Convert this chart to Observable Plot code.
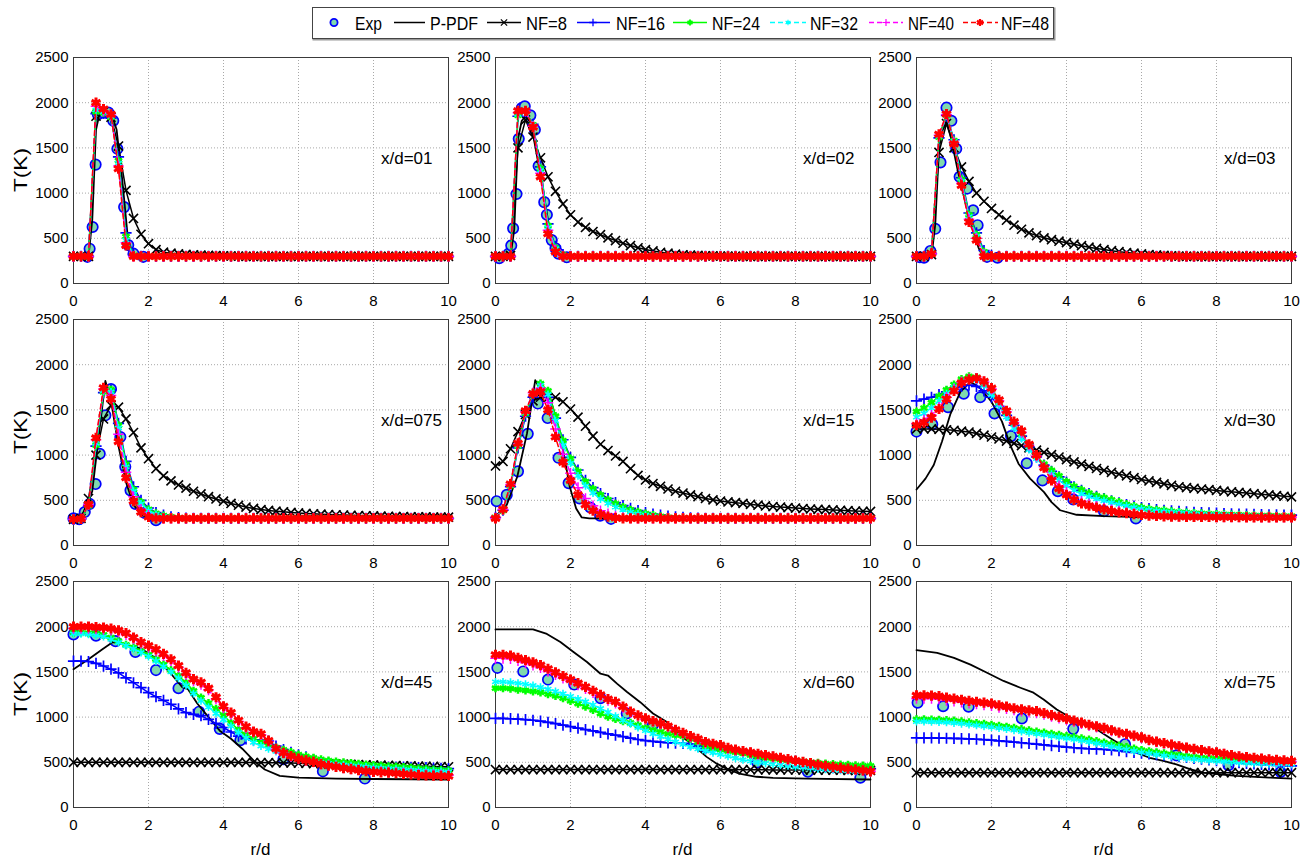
<!DOCTYPE html>
<html><head><meta charset="utf-8">
<script src="https://cdn.jsdelivr.net/npm/d3@7"></script>
<script src="https://cdn.jsdelivr.net/npm/@observablehq/plot@0.6"></script>
<style>
body{margin:0;background:#fff;font-family:"Liberation Sans",Arial,Helvetica,sans-serif;}
#wrap{position:relative;width:1311px;height:858px;overflow:hidden;background:#fff;}
.pnl{position:absolute;}
#overlay{position:absolute;left:0;top:0;}
</style></head>
<body><div id="wrap"><svg id="overlay" width="1311" height="858"></svg></div>
<script>
// ---------- DATA ----------
const r = [0,0.2,0.4,0.6,0.8,1,1.2,1.4,1.6,1.8,
2,2.2,2.4,2.6,2.8,3,3.2,3.4,3.6,3.8,
4,4.2,4.4,4.6,4.8,5,5.2,5.4,5.6,5.8,
6,6.2,6.4,6.6,6.8,7,7.2,7.4,7.6,7.8,
8,8.2,8.4,8.6,8.8,9,9.2,9.4,9.6,9.8,
10];
const xTicks = [0,2,4,6,8,10];
const yTicks = [0,500,1000,1500,2000,2500];
const panelLabels = ["x/d=01","x/d=02","x/d=03","x/d=075","x/d=15","x/d=30","x/d=45","x/d=60","x/d=75"];
const seriesNames = ["Exp","P-PDF","NF=8","NF=16","NF=24","NF=32","NF=40","NF=48"];

// x/d=01
const p01_nf8 = [300,300,300,1850,1900,1840,1520,1030,720,545,
440,375,346,335,328,322,318,314,311,308,
306,304,302,301,300,300,300,300,300,300,
300,300,300,300,300,300,300,300,300,300,
300,300,300,300,300,300,300,300,300,300,
300];
const p01_nf16 = [300,300,300,1880,1885,1830,1400,560,320,300,
300,300,300,300,300,300,300,300,300,300,
300,300,300,300,300,300,300,300,300,300,
300,300,300,300,300,300,300,300,300,300,
300,300,300,300,300,300,300,300,300,300,
300];
const p01_nf24 = [300,300,300,1900,1890,1840,1360,520,310,300,
300,300,300,300,300,300,300,300,300,300,
300,300,300,300,300,300,300,300,300,300,
300,300,300,300,300,300,300,300,300,300,
300,300,300,300,300,300,300,300,300,300,
300];
const p01_nf32 = [300,300,300,1920,1900,1850,1330,480,305,300,
300,300,300,300,300,300,300,300,300,300,
300,300,300,300,300,300,300,300,300,300,
300,300,300,300,300,300,300,300,300,300,
300,300,300,300,300,300,300,300,300,300,
300];
const p01_nf40 = [300,300,300,1960,1910,1860,1300,450,300,300,
300,300,300,300,300,300,300,300,300,300,
300,300,300,300,300,300,300,300,300,300,
300,300,300,300,300,300,300,300,300,300,
300,300,300,300,300,300,300,300,300,300,
300];
const p01_nf48 = [300,300,300,2000,1930,1870,1270,420,300,300,
300,300,300,300,300,300,300,300,300,300,
300,300,300,300,300,300,300,300,300,300,
300,300,300,300,300,300,300,300,300,300,
300,300,300,300,300,300,300,300,300,300,
300];
const p01_pdf = [[0,300],[0.4,300],[0.5,700],[0.6,1700],[0.7,1890],[0.9,1880],[1.05,1830],[1.15,1700],[1.3,1150],[1.45,500],[1.55,330],[1.7,300],[10,300]];
const p01_exp = [[0.37,295],[0.43,385],[0.51,625],[0.59,1315],[0.65,1870],[0.8,1890],[0.93,1890],[1.06,1800],[1.17,1490],[1.35,845],[1.46,425],[1.6,330],[1.86,295]];

// x/d=02
const p02_nf8 = [300,300,310,1500,1810,1620,1390,1180,1020,880,
760,680,620,575,540,505,475,445,420,395,
375,360,345,335,325,318,313,310,307,305,
303,302,301,300,300,300,300,300,300,300,
300,300,300,300,300,300,300,300,300,300,
300];
const p02_nf16 = [300,300,300,1850,1900,1760,1290,660,410,320,
300,300,300,300,300,300,300,300,300,300,
300,300,300,300,300,300,300,300,300,300,
300,300,300,300,300,300,300,300,300,300,
300,300,300,300,300,300,300,300,300,300,
300];
const p02_nf24 = [300,300,300,1860,1905,1755,1270,640,395,315,
300,300,300,300,300,300,300,300,300,300,
300,300,300,300,300,300,300,300,300,300,
300,300,300,300,300,300,300,300,300,300,
300,300,300,300,300,300,300,300,300,300,
300];
const p02_nf32 = [300,300,300,1870,1905,1750,1250,620,385,310,
300,300,300,300,300,300,300,300,300,300,
300,300,300,300,300,300,300,300,300,300,
300,300,300,300,300,300,300,300,300,300,
300,300,300,300,300,300,300,300,300,300,
300];
const p02_nf40 = [300,300,300,1890,1905,1740,1220,590,370,305,
300,300,300,300,300,300,300,300,300,300,
300,300,300,300,300,300,300,300,300,300,
300,300,300,300,300,300,300,300,300,300,
300,300,300,300,300,300,300,300,300,300,
300];
const p02_nf48 = [300,300,300,1910,1910,1730,1180,550,350,300,
300,300,300,300,300,300,300,300,300,300,
300,300,300,300,300,300,300,300,300,300,
300,300,300,300,300,300,300,300,300,300,
300,300,300,300,300,300,300,300,300,300,
300];
const p02_pdf = [[0,300],[0.4,300],[0.5,600],[0.6,1600],[0.7,1800],[0.8,1850],[0.9,1800],[1.0,1650],[1.2,1200],[1.4,700],[1.55,420],[1.7,310],[1.8,300],[10,300]];
const p02_exp = [[0.1,280],[0.35,330],[0.42,420],[0.47,610],[0.56,990],[0.62,1600],[0.7,1940],[0.78,1960],[0.93,1860],[1.05,1700],[1.15,1300],[1.3,900],[1.37,760],[1.5,480],[1.6,390],[1.68,330],[1.9,290]];

// x/d=03
const p03_nf8 = [300,300,320,1450,1770,1500,1290,1130,1000,910,
830,760,700,645,600,560,530,505,485,468,
452,435,418,402,388,375,363,352,343,335,
327,320,315,310,306,303,301,300,300,300,
300,300,300,300,300,300,300,300,300,300,
300];
const p03_nf16 = [300,300,330,1610,1860,1590,1170,780,560,365,
310,300,300,300,300,300,300,300,300,300,
300,300,300,300,300,300,300,300,300,300,
300,300,300,300,300,300,300,300,300,300,
300,300,300,300,300,300,300,300,300,300,
300];
const p03_nf24 = [300,300,330,1620,1862,1580,1150,760,540,350,
305,300,300,300,300,300,300,300,300,300,
300,300,300,300,300,300,300,300,300,300,
300,300,300,300,300,300,300,300,300,300,
300,300,300,300,300,300,300,300,300,300,
300];
const p03_nf32 = [300,300,330,1630,1865,1570,1130,740,520,335,
300,300,300,300,300,300,300,300,300,300,
300,300,300,300,300,300,300,300,300,300,
300,300,300,300,300,300,300,300,300,300,
300,300,300,300,300,300,300,300,300,300,
300];
const p03_nf40 = [300,300,330,1640,1870,1560,1110,710,500,320,
300,300,300,300,300,300,300,300,300,300,
300,300,300,300,300,300,300,300,300,300,
300,300,300,300,300,300,300,300,300,300,
300,300,300,300,300,300,300,300,300,300,
300];
const p03_nf48 = [300,300,330,1650,1875,1545,1085,680,480,300,
300,300,300,300,300,300,300,300,300,300,
300,300,300,300,300,300,300,300,300,300,
300,300,300,300,300,300,300,300,300,300,
300,300,300,300,300,300,300,300,300,300,
300];
const p03_pdf = [[0,300],[0.4,300],[0.5,650],[0.6,1500],[0.7,1700],[0.8,1780],[0.9,1650],[1.1,1250],[1.3,900],[1.5,600],[1.65,400],[1.75,310],[1.9,300],[10,300]];
const p03_exp = [[0.09,290],[0.2,285],[0.37,360],[0.5,605],[0.64,1340],[0.8,1945],[0.93,1800],[1.06,1490],[1.15,1180],[1.35,1050],[1.51,810],[1.63,645],[1.88,295],[2.16,285]];

// x/d=075
const p04_nf8 = [290,300,520,1000,1400,1550,1530,1400,1250,1080,
960,850,770,715,670,635,600,570,540,515,
490,465,445,425,410,397,388,380,373,366,
360,355,351,347,343,340,337,334,331,329,
327,325,323,321,320,318,317,316,315,314,
313];
const p04_nf16 = [290,295,440,1100,1690,1720,1350,930,650,500,
415,365,335,318,308,302,300,300,300,300,
300,300,300,300,300,300,300,300,300,300,
300,300,300,300,300,300,300,300,300,300,
300,300,300,300,300,300,300,300,300,300,
300];
const p04_nf24 = [290,295,440,1110,1700,1720,1330,900,620,480,
400,355,330,315,305,300,300,300,300,300,
300,300,300,300,300,300,300,300,300,300,
300,300,300,300,300,300,300,300,300,300,
300,300,300,300,300,300,300,300,300,300,
300];
const p04_nf32 = [290,295,445,1130,1710,1700,1300,870,600,460,
385,345,322,310,303,300,300,300,300,300,
300,300,300,300,300,300,300,300,300,300,
300,300,300,300,300,300,300,300,300,300,
300,300,300,300,300,300,300,300,300,300,
300];
const p04_nf40 = [290,295,450,1170,1730,1660,1230,810,540,400,
335,305,300,300,300,300,300,300,300,300,
300,300,300,300,300,300,300,300,300,300,
300,300,300,300,300,300,300,300,300,300,
300,300,300,300,300,300,300,300,300,300,
300];
const p04_nf48 = [290,295,455,1190,1745,1620,1150,750,490,370,
315,300,300,300,300,300,300,300,300,300,
300,300,300,300,300,300,300,300,300,300,
300,300,300,300,300,300,300,300,300,300,
300,300,300,300,300,300,300,300,300,300,
300];
const p04_pdf = [[0,290],[0.3,370],[0.5,600],[0.7,1300],[0.85,1820],[1.0,1600],[1.2,1100],[1.4,700],[1.6,450],[1.8,340],[2.0,305],[2.2,300],[10,300]];
const p04_exp = [[0,300],[0.15,290],[0.3,370],[0.43,460],[0.59,680],[0.7,1015],[0.85,1440],[1.0,1730],[1.25,1200],[1.38,870],[1.52,610],[1.65,460],[1.9,360],[2.2,280]];

// x/d=15
const p05_nf8 = [880,930,1070,1260,1450,1600,1640,1635,1640,1590,
1510,1420,1320,1210,1120,1050,990,930,850,775,
725,685,655,625,600,580,560,540,520,505,
492,482,474,466,456,446,438,431,425,419,
414,409,404,400,397,393,389,385,381,379,
377];
const p05_nf16 = [310,390,650,1080,1430,1640,1710,1640,1410,1170,
975,835,720,640,575,520,475,440,410,385,
365,348,335,325,317,310,305,302,300,300,
300,300,300,300,300,300,300,300,300,300,
300,300,300,300,300,300,300,300,300,300,
300];
const p05_nf24 = [310,390,660,1100,1460,1680,1790,1710,1430,1160,
960,820,705,625,560,505,460,425,395,372,
352,336,322,312,305,300,300,300,300,300,
300,300,300,300,300,300,300,300,300,300,
300,300,300,300,300,300,300,300,300,300,
300];
const p05_nf32 = [310,395,665,1110,1470,1690,1770,1670,1380,1110,
910,770,660,580,515,465,425,395,370,350,
335,322,312,305,300,300,300,300,300,300,
300,300,300,300,300,300,300,300,300,300,
300,300,300,300,300,300,300,300,300,300,
300];
const p05_nf40 = [305,400,675,1120,1480,1690,1740,1580,1290,1010,
800,640,520,440,385,350,325,310,302,300,
300,300,300,300,300,300,300,300,300,300,
300,300,300,300,300,300,300,300,300,300,
300,300,300,300,300,300,300,300,300,300,
300];
const p05_nf48 = [300,400,680,1130,1490,1680,1700,1500,1200,920,
720,560,450,385,345,320,305,300,300,300,
300,300,300,300,300,300,300,300,300,300,
300,300,300,300,300,300,300,300,300,300,
300,300,300,300,300,300,300,300,300,300,
300];
const p05_pdf = [[0,320],[0.3,450],[0.58,760],[0.84,1240],[1.06,1830],[1.2,1720],[1.45,1640],[1.6,1430],[1.8,1060],[1.98,650],[2.15,410],[2.3,310],[2.5,300],[10,300]];
const p05_exp = [[0.03,490],[0.3,560],[0.6,820],[0.86,1235],[1.13,1570],[1.39,1410],[1.68,970],[1.95,690],[2.24,520],[2.53,420],[2.79,330],[3.08,295]];

// x/d=30
const p06_nf8 = [1290,1290,1290,1285,1280,1275,1265,1255,1240,1220,
1200,1178,1155,1130,1105,1080,1055,1030,1005,978,
950,925,900,875,852,830,810,790,770,750,
730,714,698,682,666,650,641,633,625,617,
609,601,594,587,580,573,566,559,552,545,
538];
const p06_nf16 = [1600,1620,1640,1670,1700,1730,1760,1775,1760,1710,
1640,1540,1440,1330,1210,1090,980,890,820,760,
700,650,610,575,545,520,495,472,452,435,
420,408,398,390,383,377,372,368,364,360,
357,354,351,348,346,344,342,340,338,336,
335];
const p06_nf24 = [1480,1520,1580,1650,1720,1780,1840,1870,1860,1800,
1700,1580,1460,1350,1230,1100,990,900,830,770,
705,655,615,580,550,530,505,480,455,435,
418,405,395,387,378,370,363,358,354,350,
347,344,341,338,335,333,331,329,327,326,
325];
const p06_nf32 = [1420,1460,1520,1600,1680,1750,1810,1840,1830,1770,
1670,1550,1420,1300,1180,1060,960,870,790,720,
660,610,570,540,515,495,475,455,437,420,
405,393,383,375,368,362,357,352,348,344,
341,338,335,332,330,328,326,324,322,321,
320];
const p06_nf40 = [1350,1390,1440,1530,1640,1730,1810,1845,1850,1810,
1730,1600,1480,1360,1250,1110,990,870,750,660,
590,530,490,460,435,415,395,380,368,357,
348,340,335,330,327,324,322,320,319,318,
317,317,316,316,315,315,314,314,313,313,
312];
const p06_nf48 = [1330,1360,1415,1510,1620,1710,1800,1835,1850,1815,
1740,1610,1490,1370,1270,1120,1000,860,720,630,
560,505,465,440,420,400,380,365,357,347,
337,330,326,323,320,318,317,316,315,315,
314,314,313,313,312,312,311,311,310,310,
310];
const p06_pdf = [[0,620],[0.24,740],[0.46,890],[0.68,1150],[0.9,1450],[1.17,1700],[1.44,1810],[1.7,1740],[2.0,1590],[2.28,1370],[2.5,1110],[2.72,905],[3.03,740],[3.4,590],[3.6,480],[3.83,390],[4.27,340],[5.0,325],[5.9,315],[10,310]];
const p06_exp = [[0,1260],[0.42,1340],[0.84,1530],[1.26,1680],[1.7,1640],[2.08,1460],[2.52,1210],[2.94,910],[3.36,720],[3.77,600],[4.18,510],[5.0,380],[5.85,300]];

// x/d=45
const p07_nf8 = [500,500,500,500,500,500,500,500,500,500,
500,500,500,500,500,500,500,500,500,500,
500,500,499,499,498,497,496,495,494,492,
490,488,486,484,482,480,478,476,474,472,
470,468,466,464,462,460,458,456,454,452,
450];
const p07_nf16 = [1620,1620,1615,1595,1565,1530,1490,1435,1380,1325,
1270,1225,1185,1140,1090,1050,1030,1015,975,930,
885,835,790,760,748,745,735,680,640,610,
582,560,530,505,490,480,470,462,455,450,
448,448,448,447,446,444,442,440,437,434,
431];
const p07_nf24 = [1935,1935,1930,1925,1910,1880,1840,1800,1770,1730,
1690,1640,1580,1520,1455,1380,1290,1215,1155,1090,
1020,935,860,805,760,720,690,662,638,612,
585,565,548,532,518,508,499,492,483,475,
468,462,456,451,446,440,433,426,420,415,
410];
const p07_nf32 = [1920,1920,1915,1905,1890,1860,1825,1790,1755,1715,
1670,1620,1560,1500,1430,1350,1260,1180,1110,1040,
970,900,830,770,720,680,648,620,595,570,
548,530,514,500,488,478,470,462,455,448,
442,436,430,425,420,415,410,406,402,398,
395];
const p07_nf40 = [1980,1980,1980,1975,1970,1960,1940,1910,1865,1815,
1770,1730,1680,1620,1550,1470,1400,1360,1300,1200,
1100,1030,950,880,830,805,730,645,600,565,
537,520,503,480,463,451,438,427,417,407,
400,395,391,386,380,374,368,365,362,360,
358];
const p07_nf48 = [2000,2000,2000,1995,1990,1980,1960,1930,1880,1830,
1790,1750,1700,1640,1570,1490,1420,1385,1320,1220,
1120,1050,965,895,840,815,740,650,605,570,
540,522,505,480,462,450,436,424,413,402,
394,389,385,379,372,365,358,355,352,350,
348];
const p07_pdf = [[0,1530],[0.4,1640],[0.8,1760],[1.05,1830],[1.4,1800],[1.8,1760],[2.2,1650],[2.6,1480],[2.9,1330],[3.05,1310],[3.3,1150],[3.6,1000],[3.9,850],[4.2,760],[4.5,650],[4.8,520],[5.1,420],[5.5,350],[6.0,330],[7,320],[8,315],[10,310]];
const p07_exp = [[0,1915],[0.6,1900],[1.12,1840],[1.65,1720],[2.2,1520],[2.8,1320],[3.35,1060],[3.9,870],[4.45,745],[5.6,535],[6.65,400],[7.77,320]];

// x/d=60
const p08_nf8 = [420,420,420,420,420,420,420,420,420,420,
420,420,420,420,420,420,420,420,420,420,
420,420,420,420,420,420,420,420,420,420,
420,419,419,418,418,417,417,416,416,415,
415,414,414,413,413,412,412,411,411,410,
410];
const p08_nf16 = [985,985,982,978,972,965,955,942,928,912,
895,878,862,847,832,815,800,785,768,752,
740,731,723,716,712,710,700,680,660,645,
632,622,615,608,598,585,570,555,540,525,
510,495,482,470,460,452,445,440,435,432,
430];
const p08_nf24 = [1320,1320,1315,1305,1295,1285,1275,1255,1235,1210,
1180,1150,1115,1080,1040,1005,980,955,935,910,
880,855,835,815,800,790,760,720,675,655,
640,625,612,598,580,562,550,540,530,522,
515,508,500,493,486,480,475,470,466,463,
460];
const p08_nf32 = [1390,1390,1385,1375,1365,1350,1330,1310,1285,1258,
1230,1200,1170,1135,1095,1055,1010,965,925,885,
850,815,785,755,725,698,672,648,625,605,
585,565,545,528,513,500,490,480,470,460,
450,442,435,428,422,416,410,405,400,396,
392];
const p08_nf40 = [1650,1650,1645,1625,1600,1575,1545,1505,1470,1430,
1395,1355,1315,1270,1230,1185,1155,1105,1050,1010,
975,945,920,890,850,815,780,750,715,695,
680,650,632,617,602,587,572,557,542,527,
512,498,484,470,458,446,436,426,417,408,
400];
const p08_nf48 = [1690,1690,1680,1655,1630,1605,1575,1535,1495,1455,
1415,1375,1335,1290,1245,1200,1170,1115,1060,1020,
985,955,930,900,860,825,790,760,725,705,
690,660,640,625,610,595,580,565,550,535,
520,505,490,475,462,450,440,430,420,410,
400];
const p08_pdf = [[0,1970],[1.0,1970],[1.37,1920],[1.73,1830],[2.08,1720],[2.44,1610],[2.8,1480],[3.0,1460],[3.24,1370],[3.5,1280],[3.86,1165],[4.2,1040],[4.57,945],[4.92,800],[5.27,690],[5.63,560],[5.9,485],[6.16,430],[6.5,375],[6.96,340],[7.4,328],[8.3,320],[10,310]];
const p08_exp = [[0.05,1545],[0.74,1505],[1.4,1415],[2.1,1360],[2.8,1210],[3.5,1040],[4.2,915],[5.6,665],[6.98,500],[8.33,395],[9.73,330]];

// x/d=75
const p09_nf8 = [385,385,385,385,385,385,385,385,385,385,
385,385,385,385,385,385,385,385,385,385,
385,385,385,385,385,385,385,385,385,385,
385,385,385,385,385,385,385,385,385,385,
385,385,385,385,385,385,385,385,385,385,
385];
const p09_nf16 = [770,770,770,768,766,764,762,759,755,750,
745,738,731,724,716,708,700,692,684,676,
668,661,655,650,646,642,636,628,619,610,
602,594,586,578,570,562,553,544,535,527,
519,511,503,496,489,483,477,472,467,463,
460];
const p09_nf24 = [975,975,973,970,966,960,952,942,933,924,
914,904,893,880,866,852,840,828,815,802,
790,778,765,750,735,718,700,685,668,650,
635,622,610,598,588,578,568,560,552,545,
540,534,528,524,520,517,514,512,510,508,
507];
const p09_nf32 = [950,950,948,945,941,935,927,917,908,899,
889,879,868,855,841,827,815,803,790,777,
765,753,740,725,710,693,675,660,643,625,
610,597,585,573,563,553,543,535,527,520,
514,508,502,497,493,489,486,483,481,479,
478];
const p09_nf40 = [1205,1205,1205,1200,1185,1175,1165,1155,1145,1135,
1125,1108,1093,1078,1065,1055,1047,1028,1007,988,
970,950,928,906,889,872,848,824,809,790,
770,744,724,708,691,674,658,644,630,618,
606,591,576,563,553,544,535,527,520,514,
508];
const p09_nf48 = [1240,1240,1238,1232,1215,1205,1192,1180,1170,1160,
1150,1130,1115,1098,1085,1075,1066,1045,1022,1002,
983,962,938,915,898,880,855,830,815,795,
775,748,728,712,695,678,662,648,634,622,
610,595,580,567,558,550,541,533,527,521,
515];
const p09_pdf = [[0,1740],[0.55,1710],[1.0,1655],[1.44,1580],[1.88,1490],[2.32,1400],[2.77,1325],[3.12,1270],[3.39,1195],[3.74,1085],[4.1,995],[4.45,935],[4.8,865],[5.16,770],[5.51,680],[5.87,605],[6.22,550],[6.58,515],[6.93,478],[7.29,425],[7.64,386],[8.09,368],[8.53,350],[9.41,331],[10,320]];
const p09_exp = [[0.03,1160],[0.71,1120],[1.39,1115],[2.81,985],[4.18,870],[5.56,700],[6.93,577],[8.32,467],[9.71,393]];

// ---------- ASSEMBLY ----------
const panels = [
 {nf8:p01_nf8,nf16:p01_nf16,nf24:p01_nf24,nf32:p01_nf32,nf40:p01_nf40,nf48:p01_nf48,pdf:p01_pdf,exp:p01_exp},
 {nf8:p02_nf8,nf16:p02_nf16,nf24:p02_nf24,nf32:p02_nf32,nf40:p02_nf40,nf48:p02_nf48,pdf:p02_pdf,exp:p02_exp},
 {nf8:p03_nf8,nf16:p03_nf16,nf24:p03_nf24,nf32:p03_nf32,nf40:p03_nf40,nf48:p03_nf48,pdf:p03_pdf,exp:p03_exp},
 {nf8:p04_nf8,nf16:p04_nf16,nf24:p04_nf24,nf32:p04_nf32,nf40:p04_nf40,nf48:p04_nf48,pdf:p04_pdf,exp:p04_exp},
 {nf8:p05_nf8,nf16:p05_nf16,nf24:p05_nf24,nf32:p05_nf32,nf40:p05_nf40,nf48:p05_nf48,pdf:p05_pdf,exp:p05_exp},
 {nf8:p06_nf8,nf16:p06_nf16,nf24:p06_nf24,nf32:p06_nf32,nf40:p06_nf40,nf48:p06_nf48,pdf:p06_pdf,exp:p06_exp},
 {nf8:p07_nf8,nf16:p07_nf16,nf24:p07_nf24,nf32:p07_nf32,nf40:p07_nf40,nf48:p07_nf48,pdf:p07_pdf,exp:p07_exp},
 {nf8:p08_nf8,nf16:p08_nf16,nf24:p08_nf24,nf32:p08_nf32,nf40:p08_nf40,nf48:p08_nf48,pdf:p08_pdf,exp:p08_exp},
 {nf8:p09_nf8,nf16:p09_nf16,nf24:p09_nf24,nf32:p09_nf32,nf40:p09_nf40,nf48:p09_nf48,pdf:p09_pdf,exp:p09_exp}
];

const styles = [
 {key:"nf8", color:"#000000", symbol:"times", r:4.2, msw:1.6, lsw:1.5, dash:null},
 {key:"nf16", color:"#0000ff", symbol:"plus", r:3.7, msw:1.7, lsw:1.5, dash:null},
 {key:"nf24", color:"#00ff00", symbol:"asterisk", r:3.9, msw:2.5, lsw:1.6, dash:null},
 {key:"nf32", color:"#00ffff", symbol:"asterisk", r:3.7, msw:1.6, lsw:1.5, dash:"5,3"},
 {key:"nf40", color:"#ff00ff", symbol:"plus", r:3.5, msw:1.5, lsw:1.5, dash:"5,3"},
 {key:"nf48", color:"#ff0000", symbol:"asterisk", r:4.8, msw:3.0, lsw:1.5, dash:"5,3"}
];
const EXPFILL = "#80d9ad";
const FONT = '"Liberation Sans", Arial, Helvetica, sans-serif';

const X0 = [73,495,916], Y0 = [57,319,581], W = 375, H = 226;
const ML = 50, MR = 8, MT = 8, MB = 32;
const wrap = document.getElementById("wrap");

panels.forEach((p, i) => {
  const col = i % 3, row = Math.floor(i / 3);
  const marks = [
    Plot.gridX([2,4,6,8], {stroke:"#a8a8a8", strokeOpacity:1, strokeWidth:1, strokeDasharray:"1,2"}),
    Plot.gridY([500,1000,1500,2000], {stroke:"#a8a8a8", strokeOpacity:1, strokeWidth:1, strokeDasharray:"1,2"}),
    Plot.frame({stroke:"#3a3a3a", strokeWidth:1}),
    Plot.axisX(xTicks, {tickSize:0, tickPadding:12, tickFormat:d => String(d), label:null, fontSize:15}),
    Plot.axisY(yTicks, {tickSize:0, tickPadding:5, tickFormat:d => String(d), label:null, fontSize:15}),
    Plot.dot(p.exp, {x:d => d[0], y:d => d[1], r:5.2, stroke:"#0000ff", fill:EXPFILL, strokeWidth:1.7}),
    Plot.line(p.pdf, {x:d => d[0], y:d => d[1], stroke:"#000", strokeWidth:1.8})
  ];
  styles.forEach(s => {
    const data = r.map((x, j) => ({r:x, T:p[s.key][j]}));
    marks.push(Plot.line(data, {x:"r", y:"T", stroke:s.color, strokeWidth:s.lsw, strokeDasharray:s.dash || undefined}));
    marks.push(Plot.dot(data, {x:"r", y:"T", symbol:s.symbol, r:s.r, stroke:s.color, fill:"none", strokeWidth:s.msw}));
  });
  marks.push(Plot.text([{x:8.2, y:1380, t:panelLabels[i]}], {x:"x", y:"y", text:"t", textAnchor:"start", fontSize:17, fill:"#000"}));

  const chart = Plot.plot({
    width: ML + W + MR, height: MT + H + MB,
    marginLeft: ML, marginRight: MR, marginTop: MT, marginBottom: MB,
    x: {domain:[0,10]}, y: {domain:[0,2500]},
    style: {background:"transparent", overflow:"visible", fontFamily:FONT, fontSize:"15px", color:"#000"},
    marks
  });
  const div = document.createElement("div");
  div.className = "pnl";
  div.style.left = (X0[col] - ML) + "px";
  div.style.top = (Y0[row] - MT) + "px";
  div.appendChild(chart);
  wrap.appendChild(div);
});

// ---------- overlay: axis titles and legend ----------
const ov = d3.select("#overlay").style("font-family", FONT);
[0,1,2].forEach(row => {
  ov.append("text").attr("transform", `translate(21,${Y0[row] + H/2}) rotate(-90)`)
    .attr("text-anchor","middle").attr("dy","0.35em").attr("font-size",18)
    .attr("textLength",44).attr("lengthAdjust","spacingAndGlyphs").text("T(K)");
});
[0,1,2].forEach(col => {
  ov.append("text").attr("x", X0[col] + W/2).attr("y", 855).attr("text-anchor","middle")
    .attr("font-size",17).text("r/d");
});

ov.append("rect").attr("x",313.5).attr("y",8.5).attr("width",741).attr("height",31).attr("fill","none").attr("stroke","#9a9a9a").attr("stroke-width",2);
ov.append("rect").attr("x",312.5).attr("y",7.5).attr("width",741).attr("height",31).attr("fill","#fff").attr("stroke","#444").attr("stroke-width",1);
const LY = 22.5;
const legendLayout = [
  {l0:null,l1:null,mx:334,tx:355,tw:27},
  {l0:394,l1:425,mx:null,tx:430,tw:48},
  {l0:487,l1:521,mx:504,tx:526,tw:41},
  {l0:577,l1:610,mx:593,tx:616,tw:49},
  {l0:673,l1:707,mx:690,tx:712,tw:48},
  {l0:770,l1:806,mx:788,tx:810,tw:48},
  {l0:869,l1:903,mx:886,tx:908,tw:46},
  {l0:963,l1:998,mx:980,tx:1001,tw:48}
];
const symMap = {times:d3.symbolTimes, plus:d3.symbolPlus, asterisk:d3.symbolAsterisk};
seriesNames.forEach((name, k) => {
  const L = legendLayout[k];
  if (k === 0) {
    ov.append("circle").attr("cx",L.mx).attr("cy",LY).attr("r",3.6).attr("fill",EXPFILL).attr("stroke","#0000ff").attr("stroke-width",1.8);
  } else if (k === 1) {
    ov.append("line").attr("x1",L.l0).attr("x2",L.l1).attr("y1",LY).attr("y2",LY).attr("stroke","#000").attr("stroke-width",1.5);
  } else {
    const s = styles[k-2];
    ov.append("line").attr("x1",L.l0).attr("x2",L.l1).attr("y1",LY).attr("y2",LY).attr("stroke",s.color).attr("stroke-width",1.4).attr("stroke-dasharray", s.dash || null);
    const sz = Math.PI * (s.r*0.7) * (s.r*0.7);
    ov.append("path").attr("d", d3.symbol(symMap[s.symbol], sz)()).attr("transform",`translate(${L.mx},${LY})`)
      .attr("fill","none").attr("stroke",s.color).attr("stroke-width",Math.max(1.2, s.msw*0.75));
  }
  ov.append("text").attr("x",L.tx).attr("y",30).attr("font-size",19).attr("textLength",L.tw).attr("lengthAdjust","spacingAndGlyphs").text(name);
});
</script></body></html>
